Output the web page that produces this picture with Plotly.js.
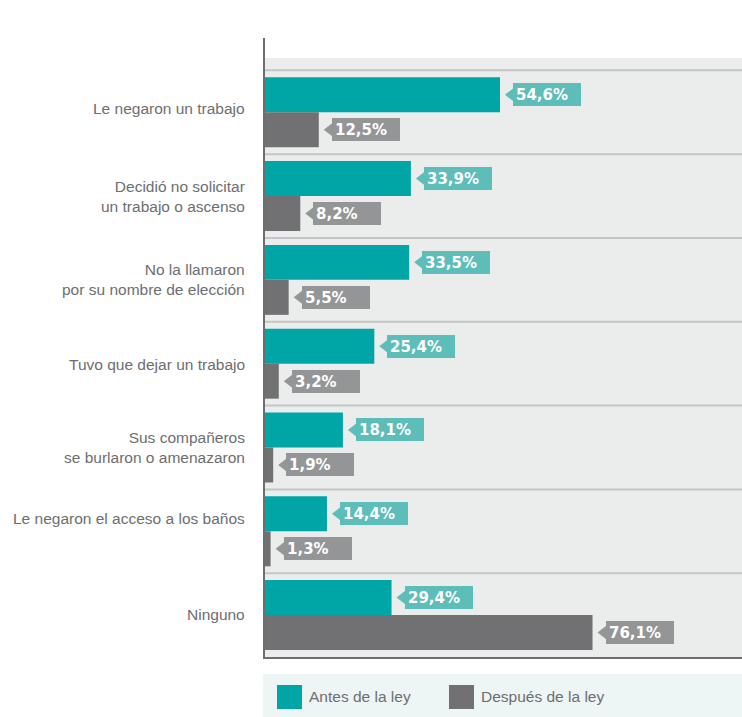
<!DOCTYPE html>
<html>
<head>
<meta charset="utf-8">
<script src="https://cdn.plot.ly/plotly-3.0.1.min.js"></script>
<style>html,body{margin:0;padding:0;background:#fff;}#chart{width:742px;height:717px;}</style>
</head>
<body>
<div id="chart"></div>
<script>
// ---- data ----
const categories = [
  "Le negaron un trabajo",
  "Decidió no solicitar<br>un trabajo o ascenso",
  "No la llamaron<br>por su nombre de elección",
  "Tuvo que dejar un trabajo",
  "Sus compañeros<br>se burlaron o amenazaron",
  "Le negaron el acceso a los baños",
  "Ninguno"
];
const antes = [54.6, 33.9, 33.5, 25.4, 18.1, 14.4, 29.4];
const despues = [12.5, 8.2, 5.5, 3.2, 1.9, 1.3, 76.1];
const seriesNames = ["Antes de la ley", "Después de la ley"];

// ---- style / layout ----
const labelShiftPx = [4, 0, 0, -1, 0, 13, 1]; // vertical nudge of category labels (px, up positive)
const TEAL = "#00a6a6", GREY = "#717174";
const TEAL_TAG = "#5dbdb9", GREY_TAG = "#949597";
const TEXT = "#6d6e70";
const W = 742, H = 717, L = 265, R = 0, T = 38, B = 60;
const pw = W - L - R, ph = H - T - B;
const bargap = 0.165;
const off = (1 - bargap) / 4;
const idx = categories.map((c, i) => i);
const fmt = v => v.toFixed(1).replace('.', ',') + '%';
const pX = px => (px - L) / pw;
const pY = py => (H - B - py) / ph;

const traces = [
  {type: 'bar', orientation: 'h', name: seriesNames[0], x: antes, y: idx,
   marker: {color: TEAL}, hoverinfo: 'skip', showlegend: false},
  {type: 'bar', orientation: 'h', name: seriesNames[1], x: despues, y: idx,
   marker: {color: GREY}, hoverinfo: 'skip', showlegend: false}
];

const shapes = [];
const annotations = [];
// grey plot background band
shapes.push({type: 'rect', xref: 'paper', yref: 'y', x0: 0, x1: 1, y0: -0.647, y1: 6.5,
  fillcolor: '#ebecec', line: {width: 0}, layer: 'below'});
// separators
for (let k = 0; k < categories.length; k++) {
  shapes.push({type: 'line', xref: 'paper', yref: 'y', x0: 0, x1: 1, y0: k - 0.5, y1: k - 0.5,
    line: {color: '#c4c5c6', width: 2}, layer: 'below'});
}
// category labels
idx.forEach(i => {
  annotations.push({xref: 'paper', yref: 'y', x: pX(245), y: i, xanchor: 'right', yanchor: 'middle',
    yshift: labelShiftPx[i], showarrow: false, text: categories[i], align: 'right',
    borderpad: 0, borderwidth: 0,
    font: {family: 'Liberation Sans, Arial, sans-serif', size: 15.5, color: TEXT}});
});
// value tags
function addTag(v, y, color) {
  shapes.push({type: 'path', xref: 'x', yref: 'y', xsizemode: 'pixel', ysizemode: 'pixel',
    xanchor: v, yanchor: y, path: 'M5,0 L14,7 L14,-7 Z',
    fillcolor: color, line: {width: 0}, layer: 'above'});
  annotations.push({xref: 'x', yref: 'y', x: v, y: y, xanchor: 'left', yanchor: 'middle',
    xshift: 13, showarrow: false, text: fmt(v), bgcolor: color, borderpad: 3, borderwidth: 0,
    width: 62, height: 17, align: 'left', valign: 'middle',
    font: {family: 'DejaVu Sans', size: 15, color: '#ffffff', weight: 'bold'}});
}
idx.forEach(i => {
  addTag(antes[i], i - off, TEAL_TAG);
  addTag(despues[i], i + off, GREY_TAG);
});
// legend
shapes.push({type: 'rect', xref: 'paper', yref: 'paper', x0: pX(263), x1: pX(742), y0: pY(717), y1: pY(674),
  fillcolor: '#eef5f5', line: {width: 0}});
const legendItems = [
  {sx: 277, tx: 307, color: TEAL, label: seriesNames[0]},
  {sx: 449, tx: 479, color: GREY, label: seriesNames[1]}
];
legendItems.forEach(it => {
  shapes.push({type: 'rect', xref: 'paper', yref: 'paper', x0: pX(it.sx), x1: pX(it.sx + 25),
    y0: pY(709), y1: pY(685), fillcolor: it.color, line: {width: 0}});
  annotations.push({xref: 'paper', yref: 'paper', x: pX(it.tx), y: pY(697), xanchor: 'left', yanchor: 'middle',
    showarrow: false, text: it.label, font: {family: 'Liberation Sans, Arial, sans-serif', size: 15.5, color: TEXT}});
});

const layout = {
  width: W, height: H,
  margin: {l: L, r: R, t: T, b: B, pad: 0},
  paper_bgcolor: '#ffffff', plot_bgcolor: '#ffffff',
  barmode: 'group', bargap: bargap, bargroupgap: 0,
  xaxis: {range: [0, pw / 4.304], showgrid: false, zeroline: false, showticklabels: false,
    ticks: '', showline: true, linecolor: TEXT, linewidth: 2, fixedrange: true},
  yaxis: {range: [6.5, -0.886], tickmode: 'array', tickvals: idx, ticktext: categories,
    showticklabels: false,
    showgrid: false, zeroline: false, ticks: '', showline: true, linecolor: TEXT, linewidth: 2,
    fixedrange: true},
  shapes: shapes,
  annotations: annotations,
  showlegend: false
};

Plotly.newPlot('chart', traces, layout, {displayModeBar: false, staticPlot: true});
</script>
</body>
</html>
